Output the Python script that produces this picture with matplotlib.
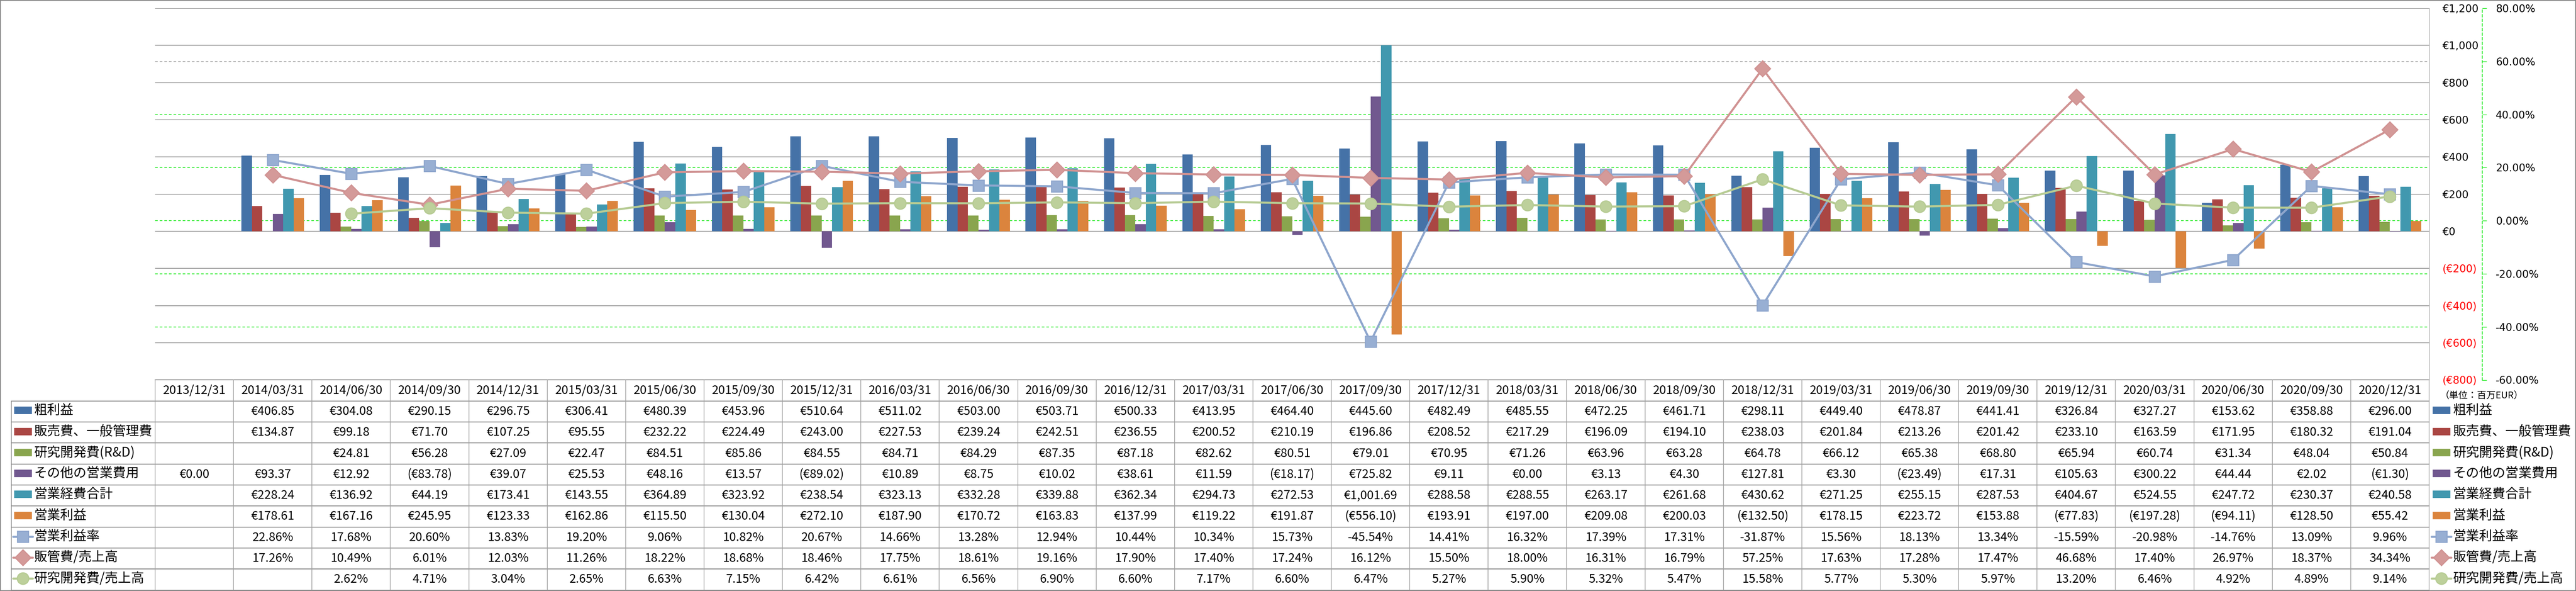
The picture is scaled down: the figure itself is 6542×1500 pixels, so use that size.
import numpy as np
import matplotlib.pyplot as plt
from matplotlib.patches import Rectangle
from matplotlib.transforms import blended_transform_factory

plt.rcParams['font.family'] = ['DejaVu Sans', 'Noto Sans CJK JP']
JP = ['Noto Sans CJK JP', 'DejaVu Sans']

nan = np.nan

dates = ['2013/12/31', '2014/03/31', '2014/06/30', '2014/09/30', '2014/12/31',
         '2015/03/31', '2015/06/30', '2015/09/30', '2015/12/31', '2016/03/31',
         '2016/06/30', '2016/09/30', '2016/12/31', '2017/03/31', '2017/06/30',
         '2017/09/30', '2017/12/31', '2018/03/31', '2018/06/30', '2018/09/30',
         '2018/12/31', '2019/03/31', '2019/06/30', '2019/09/30', '2019/12/31',
         '2020/03/31', '2020/06/30', '2020/09/30', '2020/12/31']

# 百万EUR
gross_profit = [nan, 406.85, 304.08, 290.15, 296.75, 306.41, 480.39, 453.96, 510.64, 511.02,
                503.00, 503.71, 500.33, 413.95, 464.40, 445.60, 482.49, 485.55, 472.25, 461.71,
                298.11, 449.40, 478.87, 441.41, 326.84, 327.27, 153.62, 358.88, 296.00]
sga = [nan, 134.87, 99.18, 71.70, 107.25, 95.55, 232.22, 224.49, 243.00, 227.53,
       239.24, 242.51, 236.55, 200.52, 210.19, 196.86, 208.52, 217.29, 196.09, 194.10,
       238.03, 201.84, 213.26, 201.42, 233.10, 163.59, 171.95, 180.32, 191.04]
rnd = [nan, nan, 24.81, 56.28, 27.09, 22.47, 84.51, 85.86, 84.55, 84.71,
       84.29, 87.35, 87.18, 82.62, 80.51, 79.01, 70.95, 71.26, 63.96, 63.28,
       64.78, 66.12, 65.38, 68.80, 65.94, 60.74, 31.34, 48.04, 50.84]
other_opex = [0.00, 93.37, 12.92, -83.78, 39.07, 25.53, 48.16, 13.57, -89.02, 10.89,
              8.75, 10.02, 38.61, 11.59, -18.17, 725.82, 9.11, 0.00, 3.13, 4.30,
              127.81, 3.30, -23.49, 17.31, 105.63, 300.22, 44.44, 2.02, -1.30]
total_opex = [nan, 228.24, 136.92, 44.19, 173.41, 143.55, 364.89, 323.92, 238.54, 323.13,
              332.28, 339.88, 362.34, 294.73, 272.53, 1001.69, 288.58, 288.55, 263.17, 261.68,
              430.62, 271.25, 255.15, 287.53, 404.67, 524.55, 247.72, 230.37, 240.58]
op_income = [nan, 178.61, 167.16, 245.95, 123.33, 162.86, 115.50, 130.04, 272.10, 187.90,
             170.72, 163.83, 137.99, 119.22, 191.87, -556.10, 193.91, 197.00, 209.08, 200.03,
             -132.50, 178.15, 223.72, 153.88, -77.83, -197.28, -94.11, 128.50, 55.42]

# %
op_margin = [nan, 22.86, 17.68, 20.60, 13.83, 19.20, 9.06, 10.82, 20.67, 14.66,
             13.28, 12.94, 10.44, 10.34, 15.73, -45.54, 14.41, 16.32, 17.39, 17.31,
             -31.87, 15.56, 18.13, 13.34, -15.59, -20.98, -14.76, 13.09, 9.96]
sga_ratio = [nan, 17.26, 10.49, 6.01, 12.03, 11.26, 18.22, 18.68, 18.46, 17.75,
             18.61, 19.16, 17.90, 17.40, 17.24, 16.12, 15.50, 18.00, 16.31, 16.79,
             57.25, 17.63, 17.28, 17.47, 46.68, 17.40, 26.97, 18.37, 34.34]
rnd_ratio = [nan, nan, 2.62, 4.71, 3.04, 2.65, 6.63, 7.15, 6.42, 6.61,
             6.56, 6.90, 6.60, 7.17, 6.60, 6.47, 5.27, 5.90, 5.32, 5.47,
             15.58, 5.77, 5.30, 5.97, 13.20, 6.46, 4.92, 4.89, 9.14]

bar_names = ['粗利益', '販売費、一般管理費', '研究開発費(R&D)', 'その他の営業費用', '営業経費合計', '営業利益']
bar_data = [gross_profit, sga, rnd, other_opex, total_opex, op_income]
bar_colors = ['#4572A7', '#AA4643', '#89A54E', '#71588F', '#4198AF', '#DB843D']

line_names = ['営業利益率', '販管費/売上高', '研究開発費/売上高']
line_data = [op_margin, sga_ratio, rnd_ratio]
line_colors = ['#8EA6CD', '#D09292', '#B6CB93']
line_faces = ['#98AFD3', '#D49A99', '#BDD09B']
line_markers = ['s', 'D', 'o']
line_ms = [20, 20, 21]

eur_ticks = np.arange(-800, 1201, 200)
pct_ticks = np.array([-60, -40, -20, 0, 20, 40, 60, 80]) / 100


def fmt_eur(v):
    if np.isnan(v):
        return ''
    s = f'€{abs(v):,.2f}'
    return f'({s})' if v < 0 else s


def fmt_pct(v):
    if np.isnan(v):
        return ''
    return f'{v:.2f}%'


W, H = 6542, 1500
PL, PR, PT, PB, TB = 394, 6169, 21, 964.5, 1497.5
fig = plt.figure(figsize=(W / 100, H / 100), dpi=100)

n = len(dates)
x = np.arange(n)
bw = 0.8 / 6

ax = fig.add_axes([PL / W, 1 - PB / H, (PR - PL) / W, (PB - PT) / H])
ax2 = ax.twinx()

for t in eur_ticks:
    ax.axhline(t, color='#868686', lw=1.2, zorder=0.5)

for k, (vals, c) in enumerate(zip(bar_data, bar_colors)):
    ax.bar(x + (k - 2.5) * bw, np.array(vals, float), bw, color=c, linewidth=0, zorder=2)

blend = blended_transform_factory(ax.transAxes, ax2.transData)
for p in pct_ticks[1:-1]:
    c = '#A0A0A0' if p > 0.5 else '#00E600'
    ax.plot([0, 1], [p, p], transform=blend, color=c, lw=1.2, ls=(0, (4, 3)), zorder=0.6)

for vals, c, fc, m, ms in zip(line_data, line_colors, line_faces, line_markers, line_ms):
    ax2.plot(x, np.array(vals, float) / 100, color=c, lw=3.8, marker=m, ms=ms,
             mfc=fc, mec=c, mew=2, solid_joinstyle='round', zorder=3)

ax.set_xlim(-0.5, n - 0.5)
ax.set_ylim(-800, 1200)
ax2.set_ylim(-0.6, 0.8)

ax.yaxis.tick_right()
ax.set_yticks(eur_ticks, labels=[(f'(€{abs(t):,})' if t < 0 else f'€{t:,}') for t in eur_ticks])
ax.tick_params(axis='y', length=0, pad=24.5, labelsize=19)
for lbl, t in zip(ax.get_yticklabels(), eur_ticks):
    lbl.set_color('#FF0000' if t < 0 else 'black')
ax.tick_params(axis='x', bottom=False, labelbottom=False)
ax.spines['left'].set_visible(False)
ax.spines['bottom'].set_visible(False)
ax.spines['top'].set_color('#868686')
ax.spines['right'].set_color('#868686')

ax2.set_yticks(pct_ticks, labels=[f'{np.round(p * 100, 2):.2f}%' for p in pct_ticks])
ax2.tick_params(axis='y', direction='out', length=8, width=1, color='#00E600', pad=16.5, labelsize=19)
for lbl, p in zip(ax2.get_yticklabels(), pct_ticks):
    lbl.set_color('#FF0000' if p < 0 else 'black')
for s in ['top', 'left', 'bottom']:
    ax2.spines[s].set_visible(False)
ax2.spines['right'].set_position(('axes', (6304 - PL) / (PR - PL)))
ax2.spines['right'].set_color('#00E600')
ax2.spines['right'].set_linestyle((0, (4, 3)))
ax2.spines['right'].set_linewidth(1.2)

# data table under the chart
tab = fig.add_axes([PL / W, 1 - TB / H, (PR - PL) / W, (TB - PB) / H])
tab.set_xlim(-0.5, n - 0.5)
tab.set_ylim(10, 0)
tab.axis('off')

grid_c = '#8A8A8A'
label_left = -0.5 - (PL - 29) / ((PR - PL) / n)
tab.plot([-0.5, n - 0.5], [0, 0], color=grid_c, lw=1.6, clip_on=False)
for r in range(1, 11):
    tab.plot([label_left, n - 0.5], [r, r], color=grid_c, lw=1.6, clip_on=False)
for k in range(n + 1):
    tab.plot([k - 0.5, k - 0.5], [0, 10], color='#A0A0A0', lw=1.2, clip_on=False)
tab.plot([label_left, label_left], [1, 10], color=grid_c, lw=1.2, clip_on=False)

for j, d in enumerate(dates):
    tab.text(j, 0.5, d, ha='center', va='center', fontsize=22, family=JP)

rows = [(v, fmt_eur) for v in bar_data] + [(v, fmt_pct) for v in line_data]
for r, (vals, fmt) in enumerate(rows, start=1):
    for j, v in enumerate(vals):
        tab.text(j, r + 0.5, fmt(v), ha='center', va='center', fontsize=22, family=JP)

fig_blend = blended_transform_factory(fig.transFigure, tab.transData)


def draw_key(x0, r, idx):
    yc = r + 0.45
    if idx < 6:
        tab.add_patch(Rectangle((x0 / W, yc - 0.178), 45 / W, 0.356, transform=fig_blend,
                                color=bar_colors[idx], lw=0, clip_on=False))
    else:
        i = idx - 6
        tab.plot([(x0 - 3) / W, (x0 + 47) / W], [yc, yc], transform=fig_blend, color=line_colors[i],
                 lw=3.8, solid_capstyle='round', clip_on=False)
        tab.plot([(x0 + 22) / W], [yc], transform=fig_blend, marker=line_markers[i], ms=line_ms[i],
                 mfc=line_faces[i], mec=line_colors[i], mew=2, clip_on=False)


all_names = bar_names + line_names
for i, name in enumerate(all_names):
    r = i + 1
    draw_key(36, r, i)
    tab.text(87 / W, r + 0.45, name, transform=fig_blend, ha='left', va='center', fontsize=24, family=JP)
    draw_key(6178, r, i)
    tab.text(6230 / W, r + 0.45, name, transform=fig_blend, ha='left', va='center', fontsize=24, family=JP)

fig.text(6197 / W, 1 - 1004 / H, '（単位：百万EUR）', ha='left', va='center', fontsize=17, family=JP)

fig.add_artist(Rectangle((0, 0), 1, 1, transform=fig.transFigure, fill=False, ec='#868686', lw=3))

fig.savefig('out.png', dpi=100)
